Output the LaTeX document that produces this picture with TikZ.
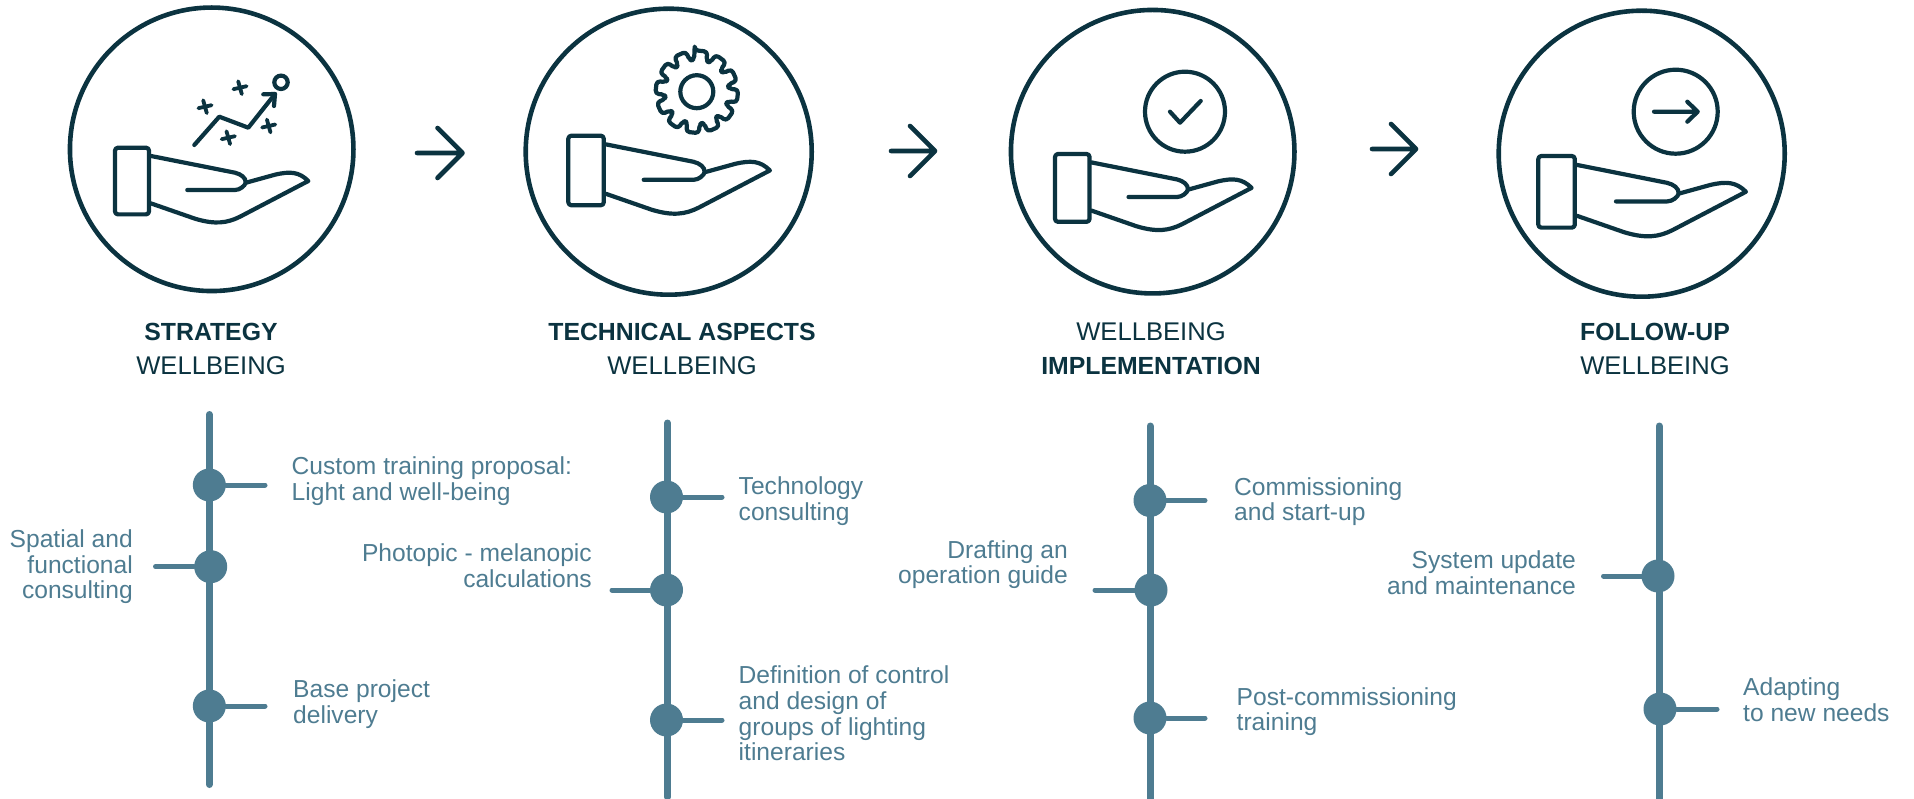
\documentclass[tikz,border=0pt]{standalone}
\usepackage{fontspec}
\usetikzlibrary{calc}
\setmainfont{Liberation Sans}
\definecolor{ink}{HTML}{0B3340}
\definecolor{teal}{HTML}{4E7C91}
\newcommand{\hb}[1]{{\fontsize{24.8}{34}\selectfont\textbf{#1}}}
\newcommand{\hr}[1]{{\fontsize{25.6}{34}\selectfont #1}}
\tikzset{
  x=1pt,y=-1pt,
  icon/.style={draw=ink,line width=4.2pt,line cap=round,line join=round},
  bigring/.style={circle,draw=ink,line width=4.6pt,inner sep=0pt,minimum size=#1},
  smallring/.style={circle,draw=ink,line width=4.2pt,inner sep=0pt,minimum size=#1},
  spine/.style={draw=teal,line width=7pt,line cap=round},
  tick/.style={draw=teal,line width=5pt,line cap=round},
  dot/.style={circle,fill=teal,inner sep=0pt,minimum size=33pt},
  lab/.style={text=teal,font=\fontsize{24.6}{25.6}\selectfont,inner sep=0pt},
  labr/.style={lab,anchor=west,align=left},
  labl/.style={lab,anchor=east,align=right},
  head/.style={text=ink,font=\fontsize{25}{34}\selectfont,align=center,inner sep=0pt,anchor=center},
  flow/.style={draw=ink,line width=4.6pt,line cap=round,line join=round},
}
\newcommand{\handicon}[3]{%
  \begin{scope}[shift={(#1,#2)},scale=#3]
    \draw[icon,rounded corners=3pt] (0,0) rectangle (34,66.7);
    \draw[icon] (36,8.3) -- (120,25) .. controls (126,26.5) and (131,30) .. (130.7,35)
      .. controls (130,38) and (125,42.3) .. (120,42.3) -- (72.3,42.3);
    \draw[icon] (131,35) -- (160,27) .. controls (175,23.5) and (184,24) .. (193.3,33.3)
      -- (125,69) .. controls (112,75.5) and (100,77) .. (80,71) -- (36,55.7);
  \end{scope}}
\newcommand{\crossmark}[2]{%
  \begin{scope}[shift={(#1,#2)}]
  \draw[icon,line width=3.8pt] (-6.6,1.5) -- (6.6,-1.5) (-1.8,-6.4) -- (1.8,6.4);
  \end{scope}}
\begin{document}
\begin{tikzpicture}
\useasboundingbox (0,0) rectangle (1914,799);
% big rings
\node[bigring=283.5pt] (c1) at (211.7,149.3) {};
\node[bigring=286pt] (c2) at (668.7,151.7) {};
\node[bigring=283.5pt] (c3) at (1152.7,151.7) {};
\node[bigring=286pt] (c4) at (1641.7,153.7) {};
% hands
\handicon{115}{147.7}{1}
\handicon{568.3}{135.7}{1.043}
\handicon{1055}{154}{1.017}
\handicon{1538.3}{156}{1.074}
% strategy icon
\draw[icon] (194.3,145) -- (219.3,116.7) -- (248.3,127.7) -- (275,94);
\draw[icon] (263.3,94.3) -- (275,94) -- (274,106);
\node[smallring=13.4pt] (goal) at (281,82.3) {};
\crossmark{205}{106.7}
\crossmark{240}{87.7}
\crossmark{228.3}{137.7}
\crossmark{268.7}{126}
% gear
\node[smallring=33pt] (hub) at (696.8,91.7) {};
\begin{scope}[shift={(696.8,91.7)}]
\draw[icon,rounded corners=3.6pt] (-93:41.5)
  \foreach \a in {-84,-54,...,246}{
    -- ({\a-9}:41.5) -- ({\a+9}:41.5) -- ({\a+11}:32) -- ({\a+19}:32)
  } -- cycle;
\end{scope}
% check icon
\node[smallring=80pt] (chk) at (1185,111.7) {};
\draw[icon] (1170,111.7) -- (1180,122.7) -- (1200.7,101);
% arrow icon
\node[smallring=84pt] (nxt) at (1675.7,111.7) {};
\coordinate (na) at (1654,111.7);
\coordinate (nb) at (1697.7,111.7);
\draw[icon] (na) -- (nb) (1687.3,101.7) -- (nb) -- (1687.3,121.7);
% flow arrows
\coordinate (f1a) at (417,153); \coordinate (f1b) at (462.5,153);
\coordinate (f2a) at (891,151); \coordinate (f2b) at (935,151);
\coordinate (f3a) at (1372,149); \coordinate (f3b) at (1416,149);
\foreach \p in {f1,f2,f3}{
  \draw[flow] (\p a) -- (\p b) ($(\p b)+(-25,-25)$) -- (\p b) -- ($(\p b)+(-25,25)$);
}
% headers
\node[head] (h1) at (211,349) {\hb{STRATEGY}\\\hr{WELLBEING}};
\node[head] (h2) at (682,349) {\hb{TECHNICAL ASPECTS}\\\hr{WELLBEING}};
\node[head] (h3) at (1151,349) {\hr{WELLBEING}\\\hb{IMPLEMENTATION}};
\node[head] (h4) at (1655,349) {\hb{FOLLOW-UP}\\\hr{WELLBEING}};
% column 1
\coordinate (s1a) at (209.3,414.5); \coordinate (s1b) at (209.3,784.5);
\draw[spine] (s1a) -- (s1b);
\node[dot] (d11) at (209.3,485) {};
\node[dot] (d12) at (210.7,566.7) {};
\node[dot] (d13) at (209.3,706) {};
\coordinate (t11) at (265,485); \coordinate (t12) at (155.5,566.7); \coordinate (t13) at (265,706);
\draw[tick] (d11) -- (t11); \draw[tick] (d12) -- (t12); \draw[tick] (d13) -- (t13);
\node[labr] (l11) at (291.5,481) {Custom training proposal:\\Light and well-being};
\node[labl] (l12) at (133,567) {Spatial and\\functional\\consulting};
\node[labr] (l13) at (293,704) {Base project\\delivery};
% column 2
\coordinate (s2a) at (667.5,423); \coordinate (s2b) at (667.5,797);
\draw[spine] (s2a) -- (s2b);
\node[dot] (d21) at (666.5,497) {};
\node[dot] (d22) at (666.5,590) {};
\node[dot] (d23) at (666.5,720) {};
\coordinate (t21) at (722,497); \coordinate (t22) at (612,590); \coordinate (t23) at (722,720);
\draw[tick] (d21) -- (t21); \draw[tick] (d22) -- (t22); \draw[tick] (d23) -- (t23);
\node[labr] (l21) at (738.5,501) {Technology\\consulting};
\node[labl] (l22) at (592,566) {Photopic - melanopic\\calculations};
\node[labr] (l23) at (738.5,713.5) {Definition of control\\and design of\\groups of lighting\\itineraries};
% column 3
\coordinate (s3a) at (1150,426); \coordinate (s3b) at (1150,802);
\draw[spine] (s3a) -- (s3b);
\node[dot] (d31) at (1150,500.5) {};
\node[dot] (d32) at (1151,590) {};
\node[dot] (d33) at (1150,718) {};
\coordinate (t31) at (1205,500.5); \coordinate (t32) at (1095,590); \coordinate (t33) at (1205,718);
\draw[tick] (d31) -- (t31); \draw[tick] (d32) -- (t32); \draw[tick] (d33) -- (t33);
\node[labr] (l31) at (1234,501.5) {Commissioning\\and start-up};
\node[labl] (l32) at (1068,564.5) {Drafting an\\operation guide};
\node[labr] (l33) at (1236.5,711.5) {Post-commissioning\\training};
% column 4
\coordinate (s4a) at (1659,426); \coordinate (s4b) at (1659,802);
\draw[spine] (s4a) -- (s4b);
\node[dot] (d41) at (1658,576) {};
\node[dot] (d42) at (1660,709) {};
\coordinate (t41) at (1603.5,576); \coordinate (t42) at (1717,709);
\draw[tick] (d41) -- (t41); \draw[tick] (d42) -- (t42);
\node[labl] (l41) at (1576,572.5) {System update\\and maintenance};
\node[labr] (l42) at (1743,699.5) {Adapting\\to new needs};
\end{tikzpicture}
\end{document}
